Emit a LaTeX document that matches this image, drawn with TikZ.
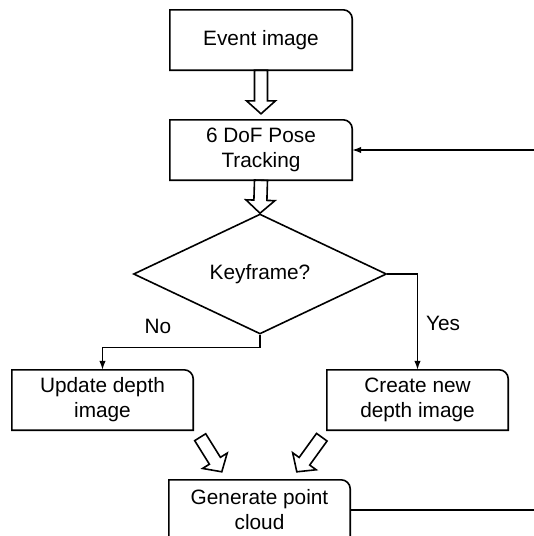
\documentclass[tikz,border=0pt]{standalone}
\usepackage{fontspec}
\setmainfont{Liberation Sans}
\usetikzlibrary{calc,shapes.geometric,arrows.meta}
\newcommand\trbox[1]{\draw[ln] (#1.south west) -- (#1.north west) -- ([xshift=-9pt]#1.north east) arc[start angle=90,end angle=0,radius=9pt] -- (#1.south east) -- cycle;}
\newcommand\hollowarr[2]{\draw[ln] let \p1=#1, \p2=#2, \n1={atan2(\y2-\y1,\x2-\x1)}, \n2={veclen(\x2-\x1,\y2-\y1)} in
 [shift={(\p1)}, rotate=\n1] (0,6.5) -- ({\n2-13},6.5) -- ({\n2-13},14.5) -- (\n2,0) -- ({\n2-13},-14.5) -- ({\n2-13},-6.5) -- (0,-6.5) -- cycle;}
\begin{document}
\begin{tikzpicture}[x=1pt,y=1pt,
  ln/.style={line width=1.6pt, line join=miter},
  cn/.style={line width=1.4pt, -{Latex[length=9pt,width=6.5pt]}},
  boxn/.style={minimum width=182pt, minimum height=60pt, inner sep=0pt, align=center, font=\fontsize{20.8}{25}\selectfont},
  lbl/.style={font=\fontsize{20.8}{25}\selectfont, inner sep=0pt}]
\useasboundingbox (0,0) rectangle (534,-536);
\clip (0,0) rectangle (534,-536);
\node[boxn] (ev) at (261,-40) {Event image};
\node[boxn] (pt) at (261,-150) {6 DoF Pose\\Tracking};
\node[diamond, draw, ln, minimum width=253pt, minimum height=108pt, inner sep=0pt, font=\fontsize{20.8}{25}\selectfont] (kf) at (260,-274) {Keyframe?};
\node[boxn, minimum width=181pt] (ud) at (102.5,-400) {Update depth\\image};
\node[boxn, minimum width=181pt] (cr) at (417.5,-400) {Create new\\depth image};
\node[boxn, minimum width=181pt] (gp) at (259.5,-510) {Generate point\\cloud};
\trbox{ev}
\trbox{pt}
\trbox{ud}
\trbox{cr}
\trbox{gp}
\hollowarr{(ev.south)}{([yshift=6pt]pt.north)}
\hollowarr{(pt.south)}{(kf.north)}
\hollowarr{([shift={(7,-7)}]ud.south east)}{([shift={(53,8)}]gp.north west)}
\hollowarr{([shift={(-5,-7)}]cr.south west)}{([shift={(128,8)}]gp.north west)}
\draw[cn] (kf.east) -| (cr.north);
\draw[cn] (kf.south) -- ++(0,-13) -| (ud.north);
\coordinate (fb1) at (560,-510);
\coordinate (fb2) at (560,-150);
\draw[cn] (gp.east) -- (fb1) -- (fb2) -- (pt.east);
\node[lbl] (no) at (158,-326) {No};
\node[lbl] (yes) at (443,-323) {Yes};
\end{tikzpicture}
\end{document}
